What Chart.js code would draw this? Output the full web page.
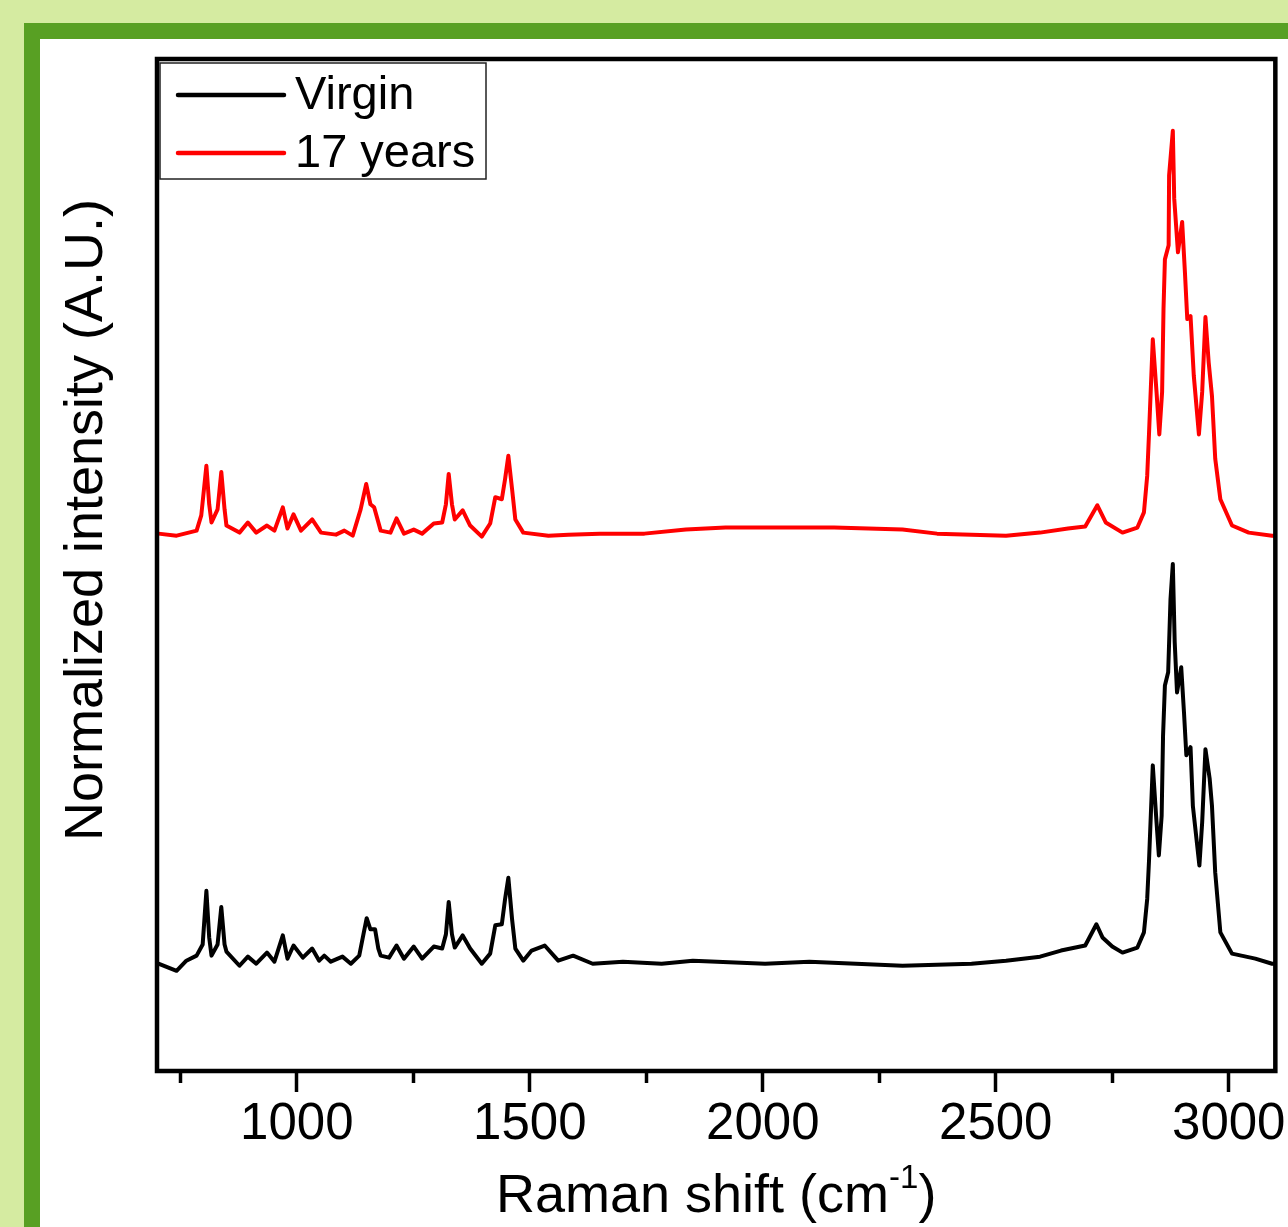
<!DOCTYPE html>
<html><head><meta charset="utf-8">
<script src="https://cdn.jsdelivr.net/npm/chart.js@4.4.1/dist/chart.umd.min.js"></script>
<style>
html,body{margin:0;padding:0;background:#d5eba1;overflow:hidden;width:1288px;height:1227px}
#frame{position:absolute;left:24px;top:23px;width:1300px;height:1240px;background:#58a023}
#panel{position:absolute;left:40px;top:39px;width:1260px;height:1200px;background:#fff}
canvas{position:absolute;left:40px;top:39px}
</style></head><body>
<div id="frame"></div><div id="panel"></div>
<canvas id="c" width="1248" height="1188"></canvas>
<script>
// ---- data (Raman shift in cm^-1, intensity in arbitrary stacked units) ----
const virginShift = [703,742,763,785,798,806,812,817,830,838,845,849,877,895,913,936,952,970,980,993,1013,1033,1048,1059,1073,1098,1116,1134,1143,1150,1158,1168,1175,1180,1198,1214,1230,1251,1269,1294,1312,1320,1326,1333,1339,1356,1372,1397,1415,1426,1440,1447,1454,1462,1469,1486,1504,1532,1561,1593,1635,1700,1783,1850,2005,2100,2200,2300,2448,2522,2595,2640,2692,2716,2729,2750,2772,2804,2818,2825,2829,2837,2845,2850,2856,2859,2863,2870,2875,2880,2884,2889,2898,2904,2909,2918,2923,2937,2943,2950,2959,2964,2971,2982,3007,3057,3093,3100];
const virginIntensity = [10.6,9.9,10.9,11.4,12.5,17.8,13.2,11.4,12.5,16.2,12.5,11.8,10.4,11.3,10.6,11.7,10.8,13.4,11.1,12.4,11.2,12.1,10.9,11.4,10.8,11.3,10.6,11.4,13.5,15.1,14.0,14.0,12.1,11.4,11.2,12.4,11.1,12.3,11.1,12.3,12.1,13.5,16.7,13.5,12.2,13.4,12.1,10.6,11.6,14.4,14.5,17.0,19.1,15.0,12.1,10.9,11.9,12.4,10.9,11.4,10.6,10.8,10.6,10.9,10.6,10.8,10.6,10.4,10.6,10.9,11.3,11.9,12.4,14.5,13.2,12.3,11.7,12.2,13.7,17.0,20.9,30.2,24.6,21.3,25.2,33.1,38.1,39.4,46.6,50.1,42.4,37.4,39.9,35.4,31.2,32.0,26.2,20.3,24.6,31.8,28.9,26.2,19.6,13.7,11.6,11.1,10.6,10.6];

const agedShift = [703,742,785,795,806,812,817,830,838,845,849,877,895,913,936,952,970,980,993,1009,1033,1052,1084,1102,1120,1137,1149,1158,1166,1180,1201,1214,1230,1251,1269,1294,1312,1320,1326,1333,1339,1356,1372,1397,1415,1426,1440,1447,1454,1462,1469,1486,1540,1583,1650,1746,1835,1920,2005,2153,2300,2374,2522,2595,2655,2692,2718,2736,2772,2804,2818,2825,2829,2837,2845,2851,2857,2860,2863,2871,2872,2880,2883,2891,2900,2906,2911,2918,2925,2936,2943,2950,2957,2964,2971,2982,3007,3043,3093,3100];
const agedIntensity = [53.1,52.9,53.4,54.9,59.8,56.0,54.2,55.5,59.2,55.5,53.9,53.2,54.2,53.2,53.9,53.4,55.7,53.6,55.0,53.4,54.5,53.2,53.0,53.4,52.9,55.5,58.0,56.0,55.7,53.4,53.2,54.6,53.1,53.5,53.1,54.1,54.2,56.0,59.0,56.0,54.5,55.4,53.9,52.8,54.1,56.7,56.5,58.5,60.8,57.5,54.5,53.2,52.9,53.0,53.1,53.1,53.5,53.7,53.7,53.7,53.5,53.1,52.9,53.2,53.6,53.8,55.9,54.2,53.2,53.7,55.2,58.8,63.1,72.3,67.1,62.9,67.1,75.3,80.2,81.6,88.5,92.9,86.2,80.9,83.9,78.9,74.3,74.6,68.7,62.9,67.1,74.5,70.0,66.7,60.5,56.5,53.9,53.2,52.9,52.9];

const seriesLabels = ['Virgin', '17 years'];
const seriesColors = ['#000000', '#ff0000'];
const xMajorTicks = [1000, 1500, 2000, 2500, 3000];
const xMinorTicks = [750, 1250, 1750, 2250, 2750];
const xRange = [700, 3100];
const yRange = [0, 100];
const xTitleMain = 'Raman shift (cm';
const xTitleSup = '-1';
const xTitleEnd = ')';
const yTitle = 'Normalized intensity (A.U.)';

const FONT = "'Liberation Sans', Arial, sans-serif";
const toPoints = (xs, ys) => xs.map((x, i) => ({x: x, y: ys[i]}));

const decorPlugin = {
  id: 'decor',
  afterDatasetsDraw(chart) {
    const ctx = chart.ctx, a = chart.chartArea;
    ctx.save();
    // plot frame
    ctx.strokeStyle = '#000';
    ctx.lineWidth = 4.5;
    ctx.strokeRect(a.left, a.top, a.right - a.left, a.bottom - a.top);
    // legend
    const lx = a.left + 3, ly = a.top + 4;
    ctx.fillStyle = '#fff';
    ctx.fillRect(lx, ly, 326, 116);
    ctx.lineWidth = 1.5;
    ctx.strokeStyle = '#222';
    ctx.strokeRect(lx, ly, 326, 116);
    ctx.font = '47px ' + FONT;
    ctx.textBaseline = 'alphabetic';
    ctx.textAlign = 'left';
    ctx.lineCap = 'round';
    const rows = [36, 94], bases = [50, 108];
    seriesLabels.forEach((lab, i) => {
      ctx.strokeStyle = seriesColors[i];
      ctx.lineWidth = 4.5;
      ctx.beginPath();
      ctx.moveTo(a.left + 21, a.top + rows[i]);
      ctx.lineTo(a.left + 127, a.top + rows[i]);
      ctx.stroke();
      ctx.fillStyle = '#000';
      ctx.fillText(lab, a.left + 138, a.top + bases[i]);
    });
    // y title
    ctx.save();
    ctx.translate(62, 481);
    ctx.rotate(-Math.PI / 2);
    ctx.font = '54px ' + FONT;
    ctx.textAlign = 'center';
    ctx.fillStyle = '#000';
    ctx.fillText(yTitle, 0, 0);
    ctx.restore();
    // x title with superscript
    ctx.fillStyle = '#000';
    ctx.textAlign = 'left';
    ctx.font = '54px ' + FONT;
    let x = 456;
    ctx.fillText(xTitleMain, x, 1173);
    x += ctx.measureText(xTitleMain).width;
    ctx.font = '33px ' + FONT;
    ctx.fillText(xTitleSup, x, 1149);
    x += ctx.measureText(xTitleSup).width;
    ctx.font = '54px ' + FONT;
    ctx.fillText(xTitleEnd, x, 1173);
    ctx.restore();
  }
};

new Chart(document.getElementById('c'), {
  type: 'scatter',
  data: {
    datasets: [
      {label: seriesLabels[0], data: toPoints(virginShift, virginIntensity), showLine: true,
       borderColor: seriesColors[0], backgroundColor: seriesColors[0], borderWidth: 4,
       pointRadius: 0, tension: 0, borderJoinStyle: 'round', xAxisID: 'x', yAxisID: 'y'},
      {label: seriesLabels[1], data: toPoints(agedShift, agedIntensity), showLine: true,
       borderColor: seriesColors[1], backgroundColor: seriesColors[1], borderWidth: 4,
       pointRadius: 0, tension: 0, borderJoinStyle: 'round', xAxisID: 'x', yAxisID: 'y'}
    ]
  },
  options: {
    responsive: false,
    animation: false,
    devicePixelRatio: 1,
    layout: {padding: {left: 0, right: 8, top: 20, bottom: 0}},
    plugins: {legend: {display: false}, tooltip: {enabled: false}},
    scales: {
      xMinor: {
        type: 'linear', position: 'bottom', weight: 0,
        min: xRange[0], max: xRange[1],
        afterBuildTicks: s => { s.ticks = xMinorTicks.map(v => ({value: v})); },
        afterFit: s => { s.height = 0; },
        ticks: {display: false},
        border: {display: false},
        grid: {drawOnChartArea: false, drawTicks: true, tickLength: 12, tickWidth: 3.5, tickColor: '#000'}
      },
      x: {
        type: 'linear', position: 'bottom', weight: 1,
        min: xRange[0], max: xRange[1],
        afterBuildTicks: s => { s.ticks = xMajorTicks.map(v => ({value: v})); },
        afterFit: s => { s.height = 156; },
        ticks: {autoSkip: false, maxRotation: 0, padding: 2, color: '#000',
                font: {family: FONT, size: 51}, callback: v => String(v)},
        border: {display: false},
        grid: {drawOnChartArea: false, drawTicks: true, tickLength: 21, tickWidth: 3.5, tickColor: '#000'}
      },
      y: {
        type: 'linear', position: 'left',
        min: yRange[0], max: yRange[1],
        afterFit: s => { s.width = 117; },
        ticks: {display: false},
        border: {display: false},
        grid: {display: false}
      }
    }
  },
  plugins: [decorPlugin]
});
</script></body></html>
